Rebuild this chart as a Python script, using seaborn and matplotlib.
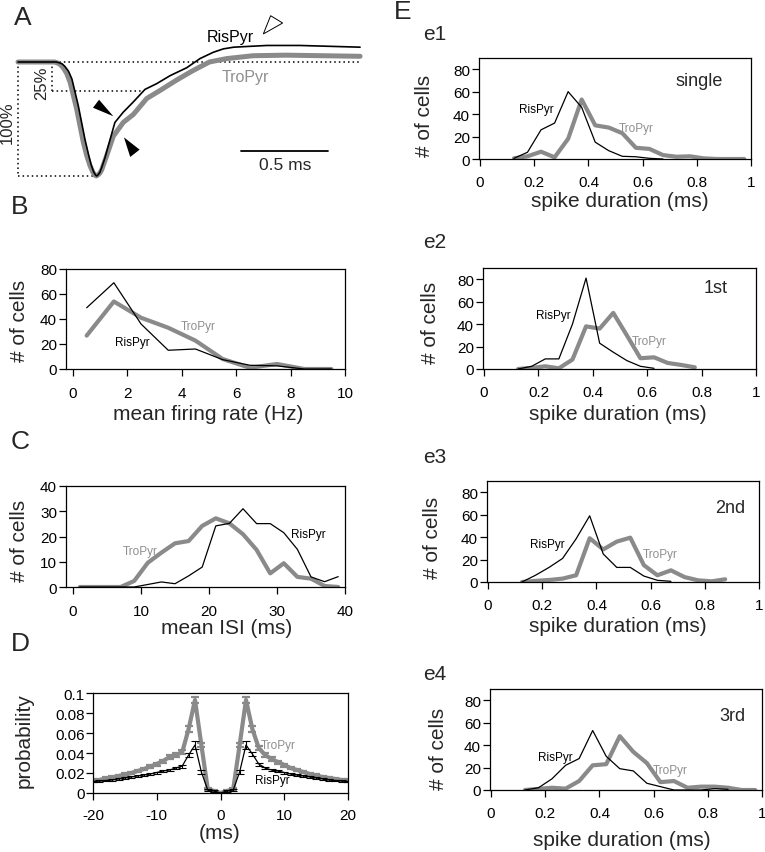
import numpy as np
import pandas as pd
import matplotlib
matplotlib.use("Agg")
import matplotlib.pyplot as plt
from matplotlib.ticker import FuncFormatter
import seaborn as sns

# ---------------- data ----------------
# Panel A: normalised spike waveforms (time in ms, amplitude normalised to trough)
a_t_ris = [0.0, 0.22, 0.24, 0.255, 0.27, 0.29, 0.31, 0.346, 0.385, 0.405, 0.42, 0.435, 0.445,
           0.452, 0.46, 0.47, 0.48, 0.50, 0.52, 0.557, 0.605, 0.663,
           0.73, 0.797, 0.874, 0.97, 1.046, 1.122, 1.18, 1.24, 1.43, 1.62, 1.966]
a_v_ris = [0.0, 0.0, -0.008, -0.018, -0.04, -0.08, -0.15, -0.38, -0.68, -0.81, -0.9, -0.965, -0.99,
           -1.0, -0.99, -0.97, -0.93, -0.84, -0.73, -0.53, -0.44, -0.35,
           -0.24, -0.19, -0.12, -0.05, 0.03, 0.085, 0.115, 0.13, 0.145, 0.145, 0.13]
a_t_tro = [0.0, 0.21, 0.23, 0.245, 0.26, 0.28, 0.30, 0.337, 0.375, 0.395, 0.414, 0.43, 0.44,
           0.45, 0.46, 0.47, 0.48, 0.51, 0.548, 0.605, 0.663,
           0.74, 0.816, 0.91, 1.0, 1.10, 1.2, 1.35, 1.54, 1.966]
a_v_tro = [0.0, 0.0, -0.01, -0.025, -0.05, -0.1, -0.18, -0.41, -0.70, -0.82, -0.91, -0.965, -0.99,
           -1.0, -0.99, -0.975, -0.95, -0.82, -0.65, -0.53, -0.46,
           -0.32, -0.25, -0.16, -0.08, 0.0, 0.03, 0.055, 0.06, 0.05]
a_arrows_solid = [[(0.548, -0.476), (0.431, -0.401), (0.466, -0.331)],
                  [(0.609, -0.661), (0.699, -0.769), (0.645, -0.833)]]
a_arrow_open = [(1.41, 0.246), (1.452, 0.406), (1.521, 0.342)]
a_scale_start, a_scale_len, a_scale_y = 1.28, 0.5, -0.78

# Panel B: mean firing rate histogram
b_x = [0.5, 1.5, 2.5, 3.5, 4.5, 5.5, 6.5, 7.5, 8.5, 9.5]
b_ris = [49, 69, 36, 15, 16, 7.5, 3, 2.5, 0, 0]
b_tro = [26.7, 54, 41, 33, 22.7, 8, 1, 4, 0, 0]

# Panel C: mean ISI histogram
c_x = [1, 3, 5, 7, 9, 11, 13, 15, 17, 19, 21, 23, 25, 27, 29, 31, 33, 35, 37, 39]
c_ris = [0, 0, 0, 0, 0, 1, 2, 1.3, 4.4, 7.9, 24.2, 25.2, 31, 25.1, 25.1, 21.5, 14.9, 4, 2.1, 4.1]
c_tro = [0, 0, 0, 0, 2.4, 9.6, 13.6, 17.3, 18.2, 24.2, 27.2, 25.2, 20.9, 14.7, 5.4, 9.4, 4, 3.3, 0.4, 0]

# Panel D: autocorrelogram
d_x = [-20, -19, -18, -17, -16, -15, -14, -13, -12, -11, -10, -9, -8, -7, -6, -5, -4, -3, -2, -1, 0,
       1, 2, 3, 4, 5, 6, 7, 8, 9, 10, 11, 12, 13, 14, 15, 16, 17, 18, 19, 20]
d_tro = [0.0125, 0.013, 0.0145, 0.0155, 0.017, 0.0185, 0.02, 0.022, 0.024, 0.0265, 0.029, 0.032,
         0.036, 0.038, 0.041, 0.064, 0.093, 0.048, 0.004, 0.002, 0.0,
         0.002, 0.004, 0.048, 0.093, 0.064, 0.045, 0.038, 0.034, 0.031, 0.028, 0.025, 0.023,
         0.021, 0.019, 0.0175, 0.016, 0.015, 0.014, 0.013, 0.0125]
d_tro_err = [0.0012, 0.0012, 0.0012, 0.0012, 0.0012, 0.0013, 0.0013, 0.0013, 0.0014, 0.0014, 0.0015,
             0.0015, 0.0016, 0.0016, 0.0018, 0.003, 0.003, 0.002, 0.001, 0.001, 0.0,
             0.001, 0.001, 0.002, 0.003, 0.003, 0.0018, 0.0016, 0.0016, 0.0015, 0.0015, 0.0014,
             0.0014, 0.0013, 0.0013, 0.0013, 0.0012, 0.0012, 0.0012, 0.0012, 0.0012]
d_ris = [0.0115, 0.012, 0.0125, 0.013, 0.014, 0.015, 0.016, 0.017, 0.018, 0.019, 0.0205, 0.022,
         0.023, 0.025, 0.027, 0.038, 0.048, 0.021, 0.003, 0.002, 0.0,
         0.002, 0.003, 0.021, 0.048, 0.039, 0.029, 0.025, 0.023, 0.022, 0.0205, 0.019, 0.018,
         0.017, 0.016, 0.015, 0.014, 0.013, 0.0125, 0.012, 0.0115]
d_ris_err = [0.0008, 0.0008, 0.0008, 0.0008, 0.0008, 0.0008, 0.0009, 0.0009, 0.0009, 0.0009, 0.001,
             0.001, 0.001, 0.0012, 0.0015, 0.002, 0.004, 0.002, 0.001, 0.001, 0.0,
             0.001, 0.001, 0.002, 0.004, 0.002, 0.0015, 0.0012, 0.001, 0.001, 0.001, 0.0009,
             0.0009, 0.0009, 0.0009, 0.0008, 0.0008, 0.0008, 0.0008, 0.0008, 0.0008]

# Panel E: spike duration histograms
e_x = [0.125, 0.175, 0.225, 0.275, 0.325, 0.375, 0.425, 0.475, 0.525, 0.575, 0.625, 0.675,
       0.725, 0.775, 0.825, 0.875, 0.925, 0.975]
e1_ris = [0.6, 6, 26, 32, 60, 46, 15, 7.4, 2.4, 2, 0.6, 0]
e1_tro = [0.6, 2.4, 6.5, 1.5, 18, 53, 30, 28, 23, 10, 9, 3.5, 2, 2.4, 0.6, 0, 0, 0]
e2_ris = [0, 2.4, 9, 9, 40, 81, 23, 15, 7.5, 2.4, 0.6]
e2_tro = [0, 1, 2.4, 0.6, 8.4, 38, 36, 50, 30, 9.6, 10.4, 5.4, 3.6, 1.5]
e3_ris = [0, 6, 13, 21, 38.5, 59, 25, 13, 13, 5.3, 1.5, 0.6]
e3_tro = [0, 1, 1.8, 3, 6, 39, 29, 36, 39.5, 15, 6, 10.4, 4.4, 1.5, 0.6, 2.4]
e4_ris = [0, 2, 10, 22, 28, 53, 30, 19, 17, 6, 3, 0, 0, 0, 1.2, 0.6]
e4_tro = [0, 1, 2, 1.2, 8, 22, 23, 48, 34, 24, 7, 8, 2, 3, 3, 2, 0, 0]
e_conditions = ["single", "1st", "2nd", "3rd"]
e_names = ["e1", "e2", "e3", "e4"]

# ---------------- style ----------------
sns.set_theme(style="ticks")
plt.rcParams["font.family"] = ["Liberation Sans", "DejaVu Sans"]
plt.rcParams["axes.linewidth"] = 0.9
plt.rcParams["xtick.major.size"] = 5
plt.rcParams["ytick.major.size"] = 5
plt.rcParams["xtick.major.width"] = 0.9
plt.rcParams["ytick.major.width"] = 0.9
plt.rcParams["xtick.direction"] = "out"
plt.rcParams["ytick.direction"] = "out"

W, H = 765, 853
BLACK = "#000000"
GRAY = "#8a8a8a"
TXTGRAY = "#8f8f8f"
LW_GRAY = 3.0
LW_BLACK = 0.9
TICK_FS = 11
LAB_FS = 15
ANN_FS = 8.5

fig = plt.figure(figsize=(W / 100, H / 100), dpi=100)
fig.patch.set_facecolor("white")


def px_axes(l, t, r, b):
    return fig.add_axes([l / W, 1 - b / H, (r - l) / W, (b - t) / H])


def fmt(v, pos):
    return "%g" % v


def style_axes(ax, xpad=7, ypad=1.5):
    for s in ax.spines.values():
        s.set_visible(True)
        s.set_color("black")
        s.set_linewidth(0.9)
    ax.tick_params(axis="x", labelsize=TICK_FS, pad=xpad, colors="black")
    ax.tick_params(axis="y", labelsize=TICK_FS, pad=ypad, colors="black")
    ax.xaxis.set_major_formatter(FuncFormatter(fmt))
    ax.yaxis.set_major_formatter(FuncFormatter(fmt))
    ax.set_facecolor("white")
    ax.grid(False)


def set_labels(ax, xl, xc, yl, yc):
    ax.set_xlabel(xl, fontsize=LAB_FS)
    ax.xaxis.set_label_coords(*xc)
    ax.xaxis.label.set_va("center")
    ax.set_ylabel(yl, fontsize=LAB_FS)
    ax.yaxis.set_label_coords(*yc)
    ax.yaxis.label.set_va("center")


def draw_pair(ax, x_r, y_r, x_t, y_t):
    sns.lineplot(x=x_t, y=y_t, color=GRAY, lw=LW_GRAY, ax=ax, solid_joinstyle="round")
    sns.lineplot(x=x_r, y=y_r, color=BLACK, lw=LW_BLACK, ax=ax)


# ---------------- Panel A ----------------
axA = px_axes(0, 0, 380, 190)
axA.set_xlim(-0.1034, 2.0805)
axA.set_ylim(-1.114, 0.5526)
axA.axis("off")
dot = dict(color="black", lw=1.1, ls=(0, (1, 2)))
axA.plot([0, 1.966], [0, 0], **dot)
axA.plot([0, 0], [0, -1], **dot)
axA.plot([0, 0.45], [-1, -1], **dot)
axA.plot([0.195, 0.195], [0, -0.25], **dot)
axA.plot([0.195, 0.72], [-0.25, -0.25], **dot)
dfA_t = pd.DataFrame({"t": a_t_tro, "v": a_v_tro})
dfA_r = pd.DataFrame({"t": a_t_ris, "v": a_v_ris})
sns.lineplot(data=dfA_t, x="t", y="v", sort=False, estimator=None, color=GRAY, lw=3.6, ax=axA,
             solid_joinstyle="round")
sns.lineplot(data=dfA_r, x="t", y="v", sort=False, estimator=None, color=BLACK, lw=1.2, ax=axA,
             solid_joinstyle="round")
for tri in a_arrows_solid:
    xs, ys = zip(*tri)
    axA.fill(xs, ys, color="black", lw=0)
xs, ys = zip(*a_arrow_open)
axA.fill(xs, ys, facecolor="white", edgecolor="black", lw=0.7)
axA.plot([a_scale_start, a_scale_start + a_scale_len], [a_scale_y, a_scale_y], color="black", lw=1.3)
axA.text(a_scale_start + a_scale_len / 2 + 0.005, -0.895, "0.5 ms", ha="center", va="center", fontsize=12.5)
axA.text(1.218, 0.228, "RisPyr", ha="center", va="center", fontsize=11.5, color="black")
axA.text(1.305, -0.13, "TroPyr", ha="center", va="center", fontsize=11.5, color=TXTGRAY)
axA.text(0.136, -0.178, "25%", ha="center", va="center", rotation=90, fontsize=12)
axA.text(-0.06, -0.52, "100%", ha="center", va="center", rotation=90, fontsize=12)
axA.set_xlabel("")
axA.set_ylabel("")

# ---------------- Panel B ----------------
axB = px_axes(66, 270, 345, 370)
draw_pair(axB, b_x, b_ris, b_x, b_tro)
axB.set_xlim(-0.26, 10)
axB.set_ylim(0, 80)
axB.set_xticks([0, 2, 4, 6, 8, 10])
axB.set_yticks([0, 20, 40, 60, 80])
style_axes(axB)
set_labels(axB, "mean firing rate (Hz)", (0.509, -0.44), "# of cells", (-0.168, 0.49))
axB.text(2.17, 21.6, "RisPyr", ha="center", va="center", fontsize=ANN_FS, color="black")
axB.text(4.6, 34.7, "TroPyr", ha="center", va="center", fontsize=ANN_FS, color=TXTGRAY)

# ---------------- Panel C ----------------
axC = px_axes(66, 487, 345, 588)
draw_pair(axC, c_x, c_ris, c_x, c_tro)
axC.set_xlim(-1.03, 40)
axC.set_ylim(0, 40)
axC.set_xticks([0, 10, 20, 30, 40])
axC.set_yticks([0, 10, 20, 30, 40])
style_axes(axC)
set_labels(axC, "mean ISI (ms)", (0.577, -0.40), "# of cells", (-0.168, 0.465))
axC.text(34.6, 21, "RisPyr", ha="center", va="center", fontsize=ANN_FS, color="black")
axC.text(9.85, 14.3, "TroPyr", ha="center", va="center", fontsize=ANN_FS, color=TXTGRAY)

# ---------------- Panel D ----------------
axD = px_axes(93, 694, 348, 794)
sns.lineplot(x=d_x, y=d_tro, color=GRAY, lw=LW_GRAY, ax=axD)
axD.errorbar(d_x, d_tro, yerr=d_tro_err, fmt="none", ecolor=GRAY, elinewidth=1.6, capsize=3.2, capthick=1.6)
sns.lineplot(x=d_x, y=d_ris, color=BLACK, lw=LW_BLACK, ax=axD)
axD.errorbar(d_x, d_ris, yerr=d_ris_err, fmt="none", ecolor=BLACK, elinewidth=0.8, capsize=3.2, capthick=0.8)
axD.set_xlim(-20, 20)
axD.set_ylim(0, 0.1)
axD.set_xticks([-20, -10, 0, 10, 20])
axD.set_yticks([0, 0.02, 0.04, 0.06, 0.08, 0.1])
style_axes(axD, xpad=6, ypad=1)
set_labels(axD, "(ms)", (0.498, -0.40), "probability", (-0.27, 0.53))
axD.text(9.1, 0.048, "TroPyr", ha="center", va="center", fontsize=ANN_FS, color=TXTGRAY)
axD.text(8.2, 0.0125, "RisPyr", ha="center", va="center", fontsize=ANN_FS, color="black")

# ---------------- Panel E ----------------
e_rects = [(479, 59, 751, 160), (483, 269, 756, 370), (487, 482, 759, 583), (490, 690, 762, 791)]
e_ris = [e1_ris, e2_ris, e3_ris, e4_ris]
e_tro = [e1_tro, e2_tro, e3_tro, e4_tro]
e_xlab = [(0.518, -0.415), (0.495, -0.44), (0.482, -0.43), (0.485, -0.49)]
e_ylab = [(-0.199, 0.436), (-0.194, 0.465), (-0.199, 0.446), (-0.191, 0.416)]
e_cond_pos = [(0.81, 69.6), (0.853, 72.5), (0.893, 66), (0.889, 66.7)]
e_ris_pos = [(0.209, 44.4), (0.254, 48), (0.218, 34), (0.236, 29.6)]
e_tro_pos = [(0.576, 28), (0.607, 24.8), (0.636, 24.6), (0.661, 17.8)]
for i in range(4):
    ax = px_axes(*e_rects[i])
    xr = e_x[:len(e_ris[i])]
    xt = e_x[:len(e_tro[i])]
    draw_pair(ax, xr, e_ris[i], xt, e_tro[i])
    ax.set_xlim(-0.004, 1)
    ax.set_ylim(0, 90)
    ax.set_xticks([0, 0.2, 0.4, 0.6, 0.8, 1.0])
    ax.set_yticks([0, 20, 40, 60, 80])
    style_axes(ax, xpad=6.5)
    set_labels(ax, "spike duration (ms)", e_xlab[i], "# of cells", e_ylab[i])
    ax.text(*e_cond_pos[i], e_conditions[i], ha="center", va="center", fontsize=13)
    ax.text(*e_ris_pos[i], "RisPyr", ha="center", va="center", fontsize=ANN_FS, color="black")
    ax.text(*e_tro_pos[i], "TroPyr", ha="center", va="center", fontsize=ANN_FS, color=TXTGRAY)

# ---------------- panel letters ----------------
letters = [("A", 23, 18, 19), ("B", 20, 207, 19), ("C", 20, 442, 19), ("D", 20, 644, 19),
           ("E", 403, 12, 19)]
for s, x, y, fs in letters:
    fig.text(x / W, 1 - y / H, s, ha="center", va="center", fontsize=fs)
sub_pos = [(435, 35), (435, 242), (435, 458), (435, 675)]
for s, (x, y) in zip(e_names, sub_pos):
    fig.text(x / W, 1 - y / H, s, ha="center", va="center", fontsize=15)

fig.savefig("out.png", dpi=100, facecolor="white")
